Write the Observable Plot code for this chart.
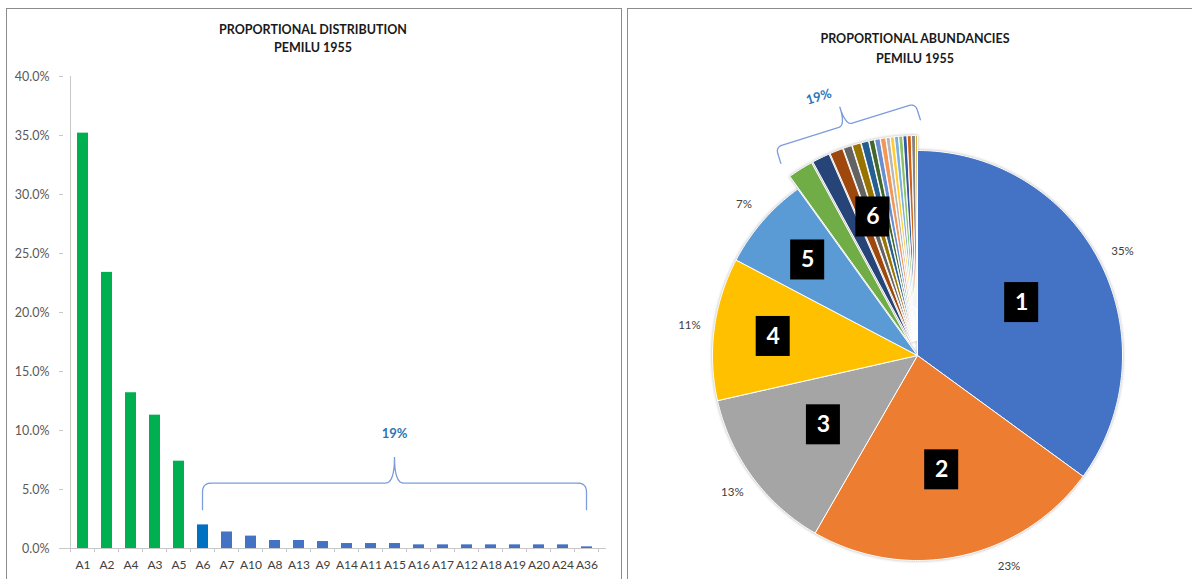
<!DOCTYPE html>
<html><head><meta charset="utf-8">
<script src="https://cdn.jsdelivr.net/npm/d3@7"></script>
<script src="https://cdn.jsdelivr.net/npm/@observablehq/plot@0.6"></script>
<style>
body{margin:0;background:#fff;font-family:Lato,"Liberation Sans",sans-serif;}
#wrap{position:relative;width:1192px;height:579px;overflow:hidden;background:#fff;}
.panel{position:absolute;border:1.5px solid #8c8c8c;box-sizing:border-box;}
#left{left:6px;top:8px;width:616px;height:620px;}
#right{left:627px;top:8px;width:620px;height:620px;}
.title{position:absolute;font-weight:bold;font-size:12.5px;color:#1a1a1a;text-align:center;line-height:19px;}
#lc,#rc{position:absolute;top:0;}
</style></head><body>
<div id="wrap">
  <div class="panel" id="left"></div>
  <div class="panel" id="right"></div>
  <div class="title" style="left:113px;width:400px;top:21px;line-height:18px">PROPORTIONAL DISTRIBUTION<br>PEMILU 1955</div>
  <div class="title" style="left:715px;width:400px;top:29px;line-height:20px">PROPORTIONAL ABUNDANCIES<br>PEMILU 1955</div>
  <div id="lc" style="left:0"></div>
  <div id="rc" style="left:620px"></div>
</div>
<script>
// ---- data ----
const categories = ["A1","A2","A4","A3","A5","A6","A7","A10","A8","A13","A9","A14","A11","A15","A16","A17","A12","A18","A19","A20","A24","A36"];
const shares = [35.2,23.4,13.2,11.3,7.4,2.0,1.4,1.05,0.68,0.68,0.59,0.42,0.42,0.42,0.31,0.31,0.31,0.31,0.31,0.31,0.31,0.14];
const yTicks = [0,5,10,15,20,25,30,35,40];
const groupLabels = ["1","2","3","4","5","6"];
const bracketText = "19%";

// ---- styles ----
const FONT = "Lato, 'Liberation Sans', sans-serif";
const GREEN = "#00B050", A6BLUE = "#0070C0", BLUE = "#4472C4";
const BRACE = "#7C9CDE", BRACETEXT = "#2E75B6";
const palette = ["#4472C4","#ED7D31","#A5A5A5","#FFC000","#5B9BD5","#70AD47","#264478","#9E480E","#636363","#997300","#255E91","#43682B","#698ED0","#F1975A","#B7B7B7","#FFCD33","#7CAFDD","#8CC168","#335AA1","#D26012","#848484","#CC9A00"];

function bracePoints(L, arm, peak, r) {
  const pts = [];
  const quad = (p0, c, p1) => { for (let t = 0; t <= 1.0001; t += 0.125) { const u = 1 - t; pts.push([u*u*p0[0] + 2*u*t*c[0] + t*t*p1[0], u*u*p0[1] + 2*u*t*c[1] + t*t*p1[1]]); } };
  const m = L / 2;
  pts.push([0, -arm]);
  quad([0, -r], [0, 0], [r, 0]);
  pts.push([m - r, 0]);
  quad([m - r, 0], [m, 0], [m, peak]);
  quad([m, peak], [m, 0], [m + r, 0]);
  pts.push([L - r, 0]);
  quad([L - r, 0], [L, 0], [L, -r]);
  pts.push([L, -arm]);
  return pts;
}

// ---- left: bar chart ----
const bars = categories.map((cat, i) => ({cat, v: shares[i] / 100, fill: i < 5 ? GREEN : (i === 5 ? A6BLUE : BLUE)}));
const left = Plot.plot({
  width: 620, height: 579,
  marginTop: 76, marginBottom: 31, marginLeft: 63, marginRight: 14,
  style: {fontFamily: FONT, fontSize: "12px", color: "#595959", background: "transparent", overflow: "visible"},
  x: {domain: categories, paddingInner: 0.55, paddingOuter: 0.275},
  y: {domain: [0, 0.4]},
  color: {type: "identity"},
  marks: [
    Plot.barY(bars, {x: "cat", y: "v", fill: "fill"}),
    Plot.ruleY([0], {stroke: "#c8c8c8"}),
    Plot.axisY({ticks: yTicks.map(t => t / 100), tickFormat: d => (d * 100).toFixed(1) + "%", tickSize: 4, tickPadding: 10, stroke: "#c8c8c8", fill: "#595959", fontSize: 12.5, label: null}),
    Plot.axisX({tickSize: 0, tickPadding: 12, fill: "#404040", fontSize: 12, label: null})
  ]
});
document.getElementById("lc").appendChild(left);
{
  const sx = left.scale("x"), sy = left.scale("y");
  const svg = d3.select(left);
  const y0 = sy.apply(0), yTop = sy.apply(0.4);
  const step = sx.apply(categories[1]) - sx.apply(categories[0]);
  const bw = sx.bandwidth;
  const x0 = sx.apply(categories[0]) - (step - bw) / 2;
  svg.append("line").attr("x1", x0).attr("x2", x0).attr("y1", yTop).attr("y2", y0).attr("stroke", "#c8c8c8");
  for (let i = 0; i <= categories.length; i++) {
    const x = x0 + i * step;
    svg.append("line").attr("x1", x).attr("x2", x).attr("y1", y0).attr("y2", y0 + 4).attr("stroke", "#c8c8c8");
  }
  const xa = sx.apply("A6") + bw / 2, xb = sx.apply("A36") + bw / 2;
  const yl = sy.apply(0.055), yb = sy.apply(0.032), yp = sy.apply(0.077);
  const pts = bracePoints(xb - xa, yb - yl, yl - yp, 9).map(([u, v]) => [xa + u, yl - v]);
  svg.append("path").attr("d", d3.line()(pts)).attr("fill", "none").attr("stroke", BRACE).attr("stroke-width", 1.3);
  svg.append("text").attr("x", (xa + xb) / 2).attr("y", sy.apply(0.0975)).attr("dy", "0.35em")
    .attr("text-anchor", "middle").attr("fill", BRACETEXT).attr("font-weight", "bold").attr("font-size", 13).text(bracketText);
}

// ---- right: pie ----
const total = d3.sum(shares);
const arcs = d3.pie().sort(null).value(d => d)(shares);
const R = 205, EXPLODE = 15;
const polar = (a, r, o = [0, 0]) => [o[0] + r * Math.sin(a), o[1] + r * Math.cos(a)];
const slicePts = [];
arcs.forEach((a, i) => {
  const mid = (a.startAngle + a.endAngle) / 2;
  const off = i >= 5 ? polar(mid, EXPLODE) : [0, 0];
  const n = Math.max(2, Math.ceil((a.endAngle - a.startAngle) / 0.01));
  const fill = palette[i % palette.length];
  slicePts.push({k: i, x: off[0], y: off[1], fill});
  for (let j = 0; j <= n; j++) {
    const p = polar(a.startAngle + (a.endAngle - a.startAngle) * j / n, R, off);
    slicePts.push({k: i, x: p[0], y: p[1], fill});
  }
  slicePts.push({k: i, x: off[0], y: off[1], fill});
});
// groups 1..5 single slices, group 6 = the rest
const groups = groupLabels.map((label, g) => {
  const idx = g < 5 ? [g] : d3.range(5, shares.length);
  const a0 = arcs[idx[0]].startAngle, a1 = arcs[idx[idx.length - 1]].endAngle;
  const share = d3.sum(idx, i => shares[i]) / total;
  return {label, a0, a1, mid: (a0 + a1) / 2, share};
});
const boxes = groups.map(g => {
  const [x, y] = polar(g.mid, R * (g.share >= 0.12 ? 0.57 : 0.71));
  return {label: g.label, x, y};
});
const yMinLabel = -211, RL = 230;
const pctLabels = groups.slice(0, 5).map(g => {
  let a = g.mid;
  if (RL * Math.cos(a) < yMinLabel) {
    const b = Math.acos(yMinLabel / RL);
    a = Math.sin(a) >= 0 ? b : 2 * Math.PI - b;
  }
  const [x, y] = polar(a, RL);
  return {x, y, text: Math.round(g.share * 100) + "%"};
});
// brace over the small slices
const g6 = groups[5];
const C1 = polar(g6.a0 + 1.5 * Math.PI / 180, 252), C2 = polar(g6.a1 - 0.5 * Math.PI / 180, 252);
const L = Math.hypot(C2[0] - C1[0], C2[1] - C1[1]);
const d = [(C2[0] - C1[0]) / L, (C2[1] - C1[1]) / L];
let nrm = [-d[1], d[0]];
const midC = [(C1[0] + C2[0]) / 2, (C1[1] + C2[1]) / 2];
if (nrm[0] * midC[0] + nrm[1] * midC[1] < 0) nrm = [-nrm[0], -nrm[1]];
const toData = ([u, v]) => ({x: C1[0] + d[0] * u + nrm[0] * v, y: C1[1] + d[1] * u + nrm[1] * v});
const bracePts = bracePoints(L, 17, 19, 7).map(toData);
const braceLabel = [toData([L / 2 - 17, 35])];
braceLabel[0].text = bracketText;
const braceAngle = Math.atan2(-d[1], d[0]) * 180 / Math.PI;

const right = Plot.plot({
  width: 572, height: 579, margin: 0,
  x: {domain: [-297, 275], range: [0, 572], axis: null},
  y: {domain: [-224, 355], range: [579, 0], axis: null},
  color: {type: "identity"},
  style: {fontFamily: FONT, background: "transparent", overflow: "visible"},
  marks: [
    Plot.line(slicePts, {x: "x", y: "y", z: "k", fill: "fill", stroke: "white", strokeWidth: 1, strokeLinejoin: "round", curve: "linear"}),
    Plot.line(bracePts, {x: "x", y: "y", stroke: BRACE, strokeWidth: 1.3, curve: "linear"}),
    Plot.text(braceLabel, {x: "x", y: "y", text: "text", rotate: braceAngle, fill: BRACETEXT, fontWeight: "bold", fontSize: 13}),
    Plot.text(pctLabels, {x: "x", y: "y", text: "text", fill: "#404040", fontSize: 11.5}),
    Plot.rect(boxes, {x1: d => d.x - 17, x2: d => d.x + 17, y1: d => d.y - 20, y2: d => d.y + 20, fill: "black"}),
    Plot.text(boxes, {x: "x", y: "y", text: "label", fill: "white", fontSize: 23, fontWeight: "bold"})
  ]
});
document.getElementById("rc").appendChild(right);
d3.select(right).select('g[aria-label="line"]').style("filter", "drop-shadow(0px 0px 1.5px rgba(0,0,0,0.3))");
</script>
</body></html>
